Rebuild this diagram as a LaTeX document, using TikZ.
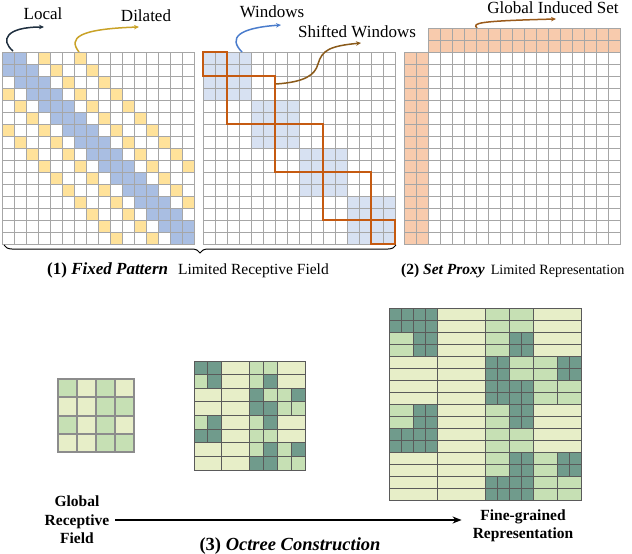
\documentclass[tikz,border=0pt]{standalone}
\usepackage{fontspec}
\setmainfont{Liberation Serif}
\usetikzlibrary{arrows.meta,decorations.pathreplacing}
\definecolor{gridgray}{HTML}{A6A6A6}
\definecolor{lblue}{HTML}{A9BEE2}
\definecolor{lyel}{HTML}{FFE29A}
\definecolor{wblue}{HTML}{D7E1F2}
\definecolor{worange}{HTML}{C55A11}
\definecolor{porange}{HTML}{F8CBAD}
\definecolor{colD}{HTML}{709B8C}
\definecolor{colG}{HTML}{C6E0B4}
\definecolor{colP}{HTML}{E7EEC8}
\definecolor{octline}{HTML}{5A5A5A}
\definecolor{smallline}{HTML}{8C8C8C}
\definecolor{arrLocal}{HTML}{1F2F3F}
\definecolor{arrDil}{HTML}{C9A227}
\definecolor{arrWin}{HTML}{4A7CCC}
\definecolor{arrShift}{HTML}{8A5A1A}
\definecolor{arrGlob}{HTML}{9A5A1A}
\def\Dcells{0/0,0/1,1/1,1/5,2/4,2/7,3/4,3/5,4/1,4/5,5/0,5/1,6/5,6/7,7/4,7/5}
\def\Gcells{0/4,0/5,1/0,1/4,2/5,2/6,3/6,3/7,4/0,4/4,5/4,5/5,6/4,6/6,7/6,7/7}
\begin{document}
\begin{tikzpicture}[x=1pt,y=-1pt,
  cell/.style={draw=gridgray,line width=0.9pt},
  win/.style={draw=worange,line width=1.8pt},
  oct/.style={draw=octline,line width=1pt},
  smallcell/.style={draw=smallline,line width=2pt},
  lbl/.style={font=\fontsize{17}{20}\selectfont,inner sep=1pt},
  curv/.style={line width=1.5pt,-{Stealth[length=5pt,width=4.5pt]}},
  boldlbl/.style={font=\fontsize{15.5}{18.5}\selectfont\bfseries,align=center,inner sep=1pt}]
\useasboundingbox (0,0) rectangle (632,554);

% ---------- (1) left matrix: local + dilated ----------
\foreach \r in {0,...,15}{
  \foreach \c in {0,...,15}{
    \pgfmathtruncatemacro\d{abs(\r-\c)}
    \def\fc{white}
    \ifnum\d=3 \def\fc{lyel}\fi
    \ifnum\d=6 \def\fc{lyel}\fi
    \ifnum\d<2 \def\fc{lblue}\fi
    \draw[cell,fill=\fc] ({2+12*\c},{52+12*\r}) rectangle ++(12,12);
  }}

% ---------- (1) middle matrix: windows ----------
\foreach \r in {0,...,15}{
  \foreach \c in {0,...,15}{
    \pgfmathtruncatemacro\br{int(\r/4)}
    \pgfmathtruncatemacro\bc{int(\c/4)}
    \def\fc{white}
    \ifnum\br=\bc \def\fc{wblue}\fi
    \draw[cell,fill=\fc] ({203+12*\c},{52+12*\r}) rectangle ++(12,12);
  }}
\draw[win] (203,52) rectangle (227,76);
\draw[win] (227,76) rectangle (275,124);
\draw[win] (275,124) rectangle (323,172);
\draw[win] (323,172) rectangle (371,220);
\draw[win] (371,220) rectangle (395,244);

% ---------- (2) right matrix: set proxy ----------
\foreach \r in {0,...,15}{
  \foreach \c in {0,...,15}{
    \draw[cell,fill=white] ({428+12*\c},{52+12*\r}) rectangle ++(12,12);
  }}
\foreach \r in {0,1}{
  \foreach \c in {0,...,15}{
    \draw[cell,fill=porange] ({428+12*\c},{28+12*\r}) rectangle ++(12,12);
  }}
\foreach \c in {0,1}{
  \foreach \r in {0,...,15}{
    \draw[cell,fill=porange] ({404+12*\c},{52+12*\r}) rectangle ++(12,12);
  }}

% ---------- top labels and curved arrows ----------
\node[lbl] (local) at (43,14) {Local};
\node[lbl] (dil) at (146,16) {Dilated};
\node[lbl] (wins) at (272,12) {Windows};
\node[lbl] (swin) at (357,32) {Shifted Windows};
\node[lbl] (gis) at (553,8) {Global Induced Set};

\coordinate (l0) at (13,51);  \coordinate (l1) at (44,27);
\coordinate (d0) at (79,52);  \coordinate (d1) at (139,27);
\coordinate (w0) at (242,52); \coordinate (w1) at (281,25);
\coordinate (s0) at (276,84); \coordinate (s1) at (361,43);
\coordinate (g0) at (477,28); \coordinate (g1) at (556,19);
\draw[curv,arrLocal] (l0) .. controls (0,40) and (6,27) .. (l1);
\draw[curv,arrDil] (d0) .. controls (68,38) and (78,29) .. (d1);
\draw[curv,arrWin] (w0) .. controls (228,38) and (238,28) .. (w1);
\draw[curv,arrShift] (s0) .. controls (305,82) and (315,75) .. (318,64)
   .. controls (322,50) and (330,46) .. (s1);
\draw[curv,arrGlob] (g0) .. controls (472,23) and (478,21) .. (g1);

% ---------- brace and captions ----------
\coordinate (bl) at (4,245);
\coordinate (br) at (396,245);
\draw[line width=1pt,decorate,decoration={brace,amplitude=8pt,mirror}] (bl) -- (br);
\node[anchor=west,inner sep=0pt] (cap1) at (47,270)
  {{\fontsize{17}{20}\selectfont\bfseries (1) \textit{Fixed Pattern}}\hspace{10pt}{\fontsize{15.5}{18}\selectfont Limited Receptive Field}};
\node[anchor=west,inner sep=0pt] (cap2) at (401,271)
  {{\fontsize{15.5}{18}\selectfont\bfseries (2) \textit{Set Proxy}}\hspace{6pt}{\fontsize{14.2}{17}\selectfont Limited Representation}};

% ---------- (3) octree: small grid ----------
\foreach \r in {0,...,3}{
  \foreach \c in {0,...,3}{
    \draw[smallcell,fill=colP] ({58+19*\c},{379+18.25*\r}) rectangle ++(19,18.25);
  }}
\foreach \r/\c in {0/0,0/2,1/2,1/3,2/0,2/2,3/2,3/3}{
  \draw[smallcell,fill=colG] ({58+19*\c},{379+18.25*\r}) rectangle ++(19,18.25);
}

% ---------- (3) octree: middle grid ----------
\foreach \r in {0,...,7}{
  \foreach \p in {0,...,3}{
    \draw[oct,fill=colP] ({194+13.875*2*\p},{361+13.625*\r}) rectangle ++(27.75,13.625);
  }}
\foreach \r/\c in \Gcells{
  \draw[oct,fill=colG] ({194+13.875*\c},{361+13.625*\r}) rectangle ++(13.875,13.625);
}
\foreach \r/\c in \Dcells{
  \draw[oct,fill=colD] ({194+13.875*\c},{361+13.625*\r}) rectangle ++(13.875,13.625);
}

% ---------- (3) octree: large grid ----------
\foreach \r in {0,...,15}{
  \foreach \p in {0,...,3}{
    \draw[oct,fill=colP] ({389+12.06*4*\p},{308+12.06*\r}) rectangle ++(48.24,12.06);
  }}
\foreach \r/\c in \Gcells{
  \foreach \k in {0,1}{
    \draw[oct,fill=colG] ({389+24.12*\c},{308+24.12*\r+12.06*\k}) rectangle ++(24.12,12.06);
  }}
\foreach \r/\c in \Dcells{
  \foreach \k in {0,1}{
    \foreach \j in {0,1}{
      \draw[oct,fill=colD] ({389+24.12*\c+12.06*\j},{308+24.12*\r+12.06*\k}) rectangle ++(12.06,12.06);
    }}}

% ---------- bottom labels and arrow ----------
\node[boldlbl] (grf) at (77,520) {Global\\Receptive\\Field};
\node[boldlbl] (fgr) at (523,526) {Fine-grained\\Representation};
\draw[line width=2pt,-{Stealth[length=9pt,width=7pt]},shorten <=5pt,shorten >=10pt]
  (grf.east) -- (grf.east -| fgr.west);
\node[inner sep=0pt] (cap3) at (290,546)
  {\fontsize{18.5}{22}\selectfont\bfseries (3) \textit{Octree Construction}};
\end{tikzpicture}
\end{document}
